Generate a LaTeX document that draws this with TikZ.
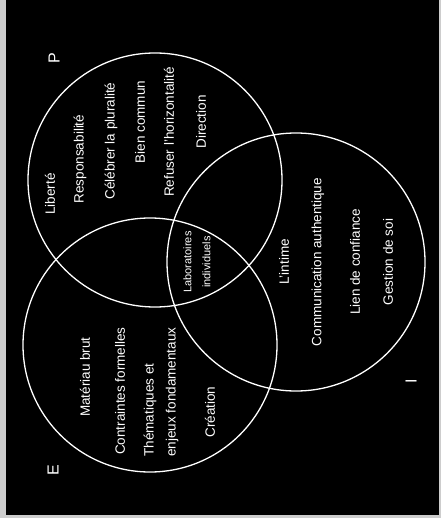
\documentclass[tikz,border=0pt]{standalone}
\usepackage{fontspec}
\setmainfont{Liberation Sans}
\usepackage{xcolor}
\definecolor{framegray}{RGB}{205,205,205}
\usetikzlibrary{positioning}

\begin{document}
\begin{tikzpicture}[x=1pt, y=-1pt,
    ring/.style={draw=white, line width=1.3pt},
    word/.style={white, rotate=90, inner sep=0pt, font=\fontsize{13.5pt}{16pt}\selectfont},
    tinyword/.style={white, rotate=90, inner sep=0pt, align=center, font=\fontsize{11pt}{19pt}\selectfont},
    setname/.style={white, rotate=90, inner sep=0pt, font=\fontsize{16pt}{18pt}\selectfont}]
  % frame
  \fill[framegray] (0,0) rectangle (441,518);
  \fill[black] (6,0) rectangle (439,515);
  \useasboundingbox (0,0) rectangle (441,518);

  % circle centres
  \coordinate (cP) at (155,180);
  \coordinate (cE) at (150,345);
  \coordinate (cI) at (296,262);

  % the three circles
  \draw[ring] (cP) circle[radius=127pt];
  \draw[ring] (cE) circle[radius=127pt];
  \draw[ring] (cI) circle[radius=129pt];

  % set names
  \node[setname] (nameP) at (54,58) {P};
  \node[setname] (nameE) at (53,470) {E};
  \node[setname] (nameI) at (411,381) {I};

  % P
  \node[word] (liberte) at (50,194) {Liberté};
  \node[word] (respo) at (80,159) {Responsabilité};
  \node[word] (plural) at (111,141) {Célébrer la pluralité};
  \node[word] (bien) at (140,122) {Bien commun};
  \node[word] (horiz) at (169,132) {Refuser l'horizontalité};
  \node[word] (direc) at (201,122) {Direction};

  % E
  \node[word] (materiau) at (85,377) {Matériau brut};
  \node[word] (contr) at (120,391) {Contraintes formelles};
  \node[word, align=left, font=\fontsize{13.5pt}{22pt}\selectfont] (themes) at (161,392)
       {Thématiques et\\enjeux fondamentaux};
  \node[word] (creation) at (210,412) {Création};

  % centre
  \node[tinyword] (labo) at (197,262) {Laboratoires\\individuels};

  % I
  \node[word] (intime) at (284,262) {L'intime};
  \node[word] (commu) at (318,262) {Communication authentique};
  \node[word] (lien) at (355,262) {Lien de confiance};
  \node[word] (gestion) at (388,262) {Gestion de soi};
\end{tikzpicture}
\end{document}
